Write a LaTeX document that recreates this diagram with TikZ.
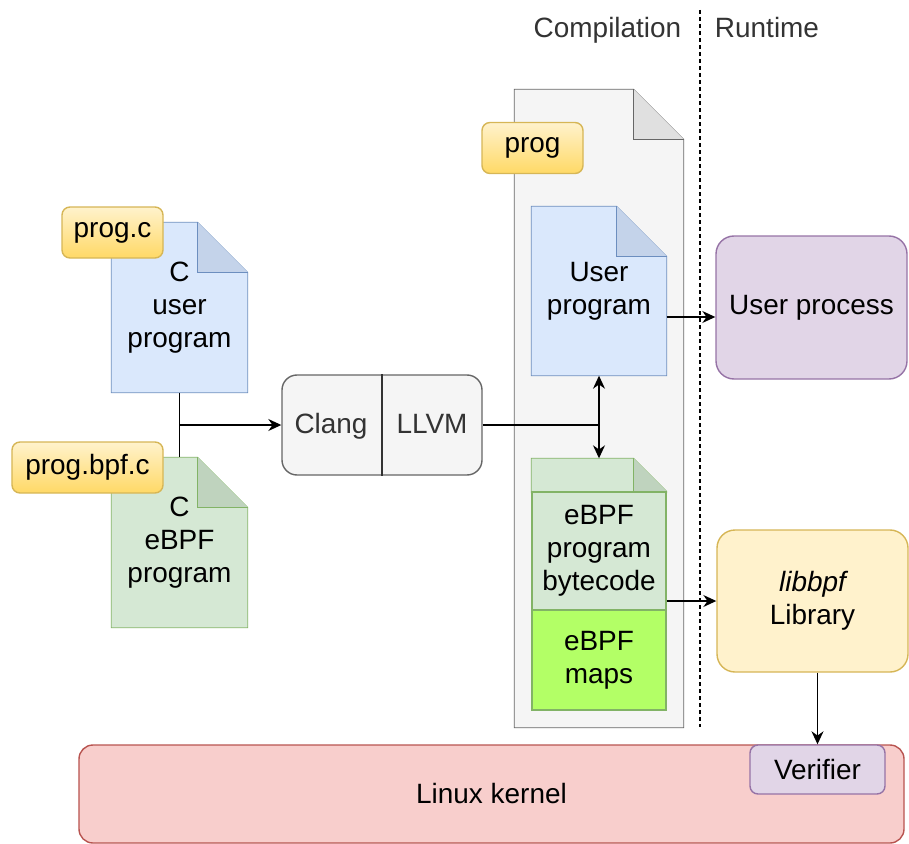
\documentclass[tikz,border=0pt]{standalone}
\usepackage{fontspec}
\setmainfont{Liberation Sans}
\usetikzlibrary{arrows.meta,backgrounds}

\definecolor{bluefill}{HTML}{DAE8FC}
\definecolor{blueline}{HTML}{6C8EBF}
\definecolor{bluefold}{HTML}{C4D3EA}
\definecolor{greenfill}{HTML}{D5E8D4}
\definecolor{greenline}{HTML}{82B366}
\definecolor{greenfold}{HTML}{BFD3BE}
\definecolor{mapsfill}{HTML}{B3FF66}
\definecolor{grayfill}{HTML}{F5F5F5}
\definecolor{grayline}{HTML}{666666}
\definecolor{grayfold}{HTML}{E0E0E0}
\definecolor{tagtop}{HTML}{FFF2CC}
\definecolor{tagbot}{HTML}{FFD966}
\definecolor{yellowfill}{HTML}{FFF2CC}
\definecolor{yellowline}{HTML}{D6B656}
\definecolor{purplefill}{HTML}{E1D5E7}
\definecolor{purpleline}{HTML}{9673A6}
\definecolor{redfill}{HTML}{F8CECC}
\definecolor{redline}{HTML}{B85450}
\definecolor{textgray}{HTML}{333333}

% folded page drawn round a node: name, fill, line, fold fill, fold size
\newcommand{\pageoutline}[5]{%
  \filldraw[fill=#2, draw=#3] (#1.north west) -- ([xshift=-#5]#1.north east)
    -- ([yshift=-#5]#1.north east) -- (#1.south east) -- (#1.south west) -- cycle;
  \filldraw[fill=#4, draw=#3] ([xshift=-#5]#1.north east)
    -- ([xshift=-#5,yshift=-#5]#1.north east) -- ([yshift=-#5]#1.north east);
}

\begin{document}
\begin{tikzpicture}[x=0.2mm, y=-0.2mm,
    font=\fontsize{15.9}{18.8}\selectfont,
    line width=0.8pt,
    arr/.style={-{Stealth[length=2.6mm,width=2.4mm]}},
    tag/.style={draw=yellowline, top color=tagtop, bottom color=tagbot,
      rounded corners=1.6mm, minimum height=10.2mm, inner sep=0pt},
    box/.style={rounded corners=3.6mm, align=center, inner sep=0pt}]

        \useasboundingbox (0,0) rectangle (909,844);

        % pages (outlines go on the background layer)
        \begin{scope}[every node/.style={align=center, inner sep=0pt}]
          \node[minimum width=27mm, minimum height=33.8mm] (cuser) at (179.5,307.5) {C\\user\\program};
          \node[minimum width=27mm, minimum height=33.8mm] (cebpf) at (179.5,542.5) {C\\eBPF\\program};
          \node[minimum width=33.6mm, minimum height=127.4mm] (progdoc) at (599,408.5) {};
          \node[minimum width=26.8mm, minimum height=33.6mm] (uprog) at (599,291) {User\\program};
          \node[minimum width=26.8mm, minimum height=6.6mm] (bhead) at (599,475.5) {};
          \node[minimum width=26.8mm, minimum height=23.6mm, fill=greenfill, draw=greenline] (bcode) at (599,551) {eBPF\\program\\bytecode};
          \node[minimum width=26.8mm, minimum height=20mm, fill=mapsfill, draw=greenline] (maps) at (599,660) {eBPF\\maps};
        \end{scope}

        \begin{scope}[on background layer]
          \pageoutline{progdoc}{grayfill}{grayline}{grayfold}{10mm}
          \pageoutline{uprog}{bluefill}{blueline}{bluefold}{10mm}
          \pageoutline{bhead}{greenfill}{greenline}{greenfold}{6.6mm}
          \pageoutline{cuser}{bluefill}{blueline}{bluefold}{10mm}
          \pageoutline{cebpf}{greenfill}{greenline}{greenfold}{10mm}
        \end{scope}

        % file names
        \node[tag, minimum width=20.2mm] (tagc)   at (112.5,232.5) {prog.c};
        \node[tag, minimum width=30.2mm] (tagbpf) at (87.5,467.5)  {prog.bpf.c};
        \node[tag, minimum width=20.2mm] (tagprog) at (532.5,148)  {prog};

        % compiler
        \node[box, rounded corners=3mm, fill=grayfill, draw=grayline,
              minimum width=40mm, minimum height=20mm] (cl) at (382,425) {};
        \draw[textgray] (cl.north) -- (cl.south);
        \node[text=textgray, anchor=base] (clang) at (331,433) {Clang};
        \node[text=textgray, anchor=base] (llvm)  at (432,433) {LLVM};

        % runtime side
        \node[box, fill=purplefill, draw=purpleline, minimum width=38.2mm, minimum height=28.6mm] (uproc) at (811.5,307.5) {User process};
        \node[box, fill=yellowfill, draw=yellowline, minimum width=38.2mm, minimum height=28.4mm] (lib) at (812.5,601) {{\itshape libbpf}\\Library};
        \node[box, rounded corners=2.8mm, fill=redfill, draw=redline, minimum width=165mm, minimum height=19.6mm] (kernel) at (491.5,794) {Linux kernel};
        \node[box, rounded corners=1.6mm, fill=purplefill, draw=purpleline, minimum width=27mm, minimum height=9.8mm] (verif) at (817.5,769.5) {Verifier};

        % phases
        \node[text=textgray, anchor=base] (comp) at (607.5,38) {Compilation};
        \node[text=textgray, anchor=base] (run)  at (767,38)   {Runtime};
        \coordinate (dtop) at (700,10);
        \coordinate (dbot) at (700,727);
        \draw[dash pattern=on 0.8mm off 0.6mm] (dtop) -- (dbot);

        % connectors
        \draw (cuser.south) -- (cebpf.north);
        \draw[arr] (cuser.south |- cl.west) -- (cl.west);
        \coordinate (junc) at (cl.east -| uprog.south);
        \draw (cl.east) -- (junc);
        \draw[arr] (junc) -- (uprog.south);
        \draw[arr] (junc) -- (bhead.north);
        \draw[arr] ([yshift=-5.2mm]uprog.east) -- ([yshift=-5.2mm]uprog.east -| uproc.west);
        \draw[arr] (bcode.east |- lib.west) -- (lib.west);
        \draw[arr] (lib.south -| verif.north) -- (verif.north);
      \end{tikzpicture}
\end{document}
